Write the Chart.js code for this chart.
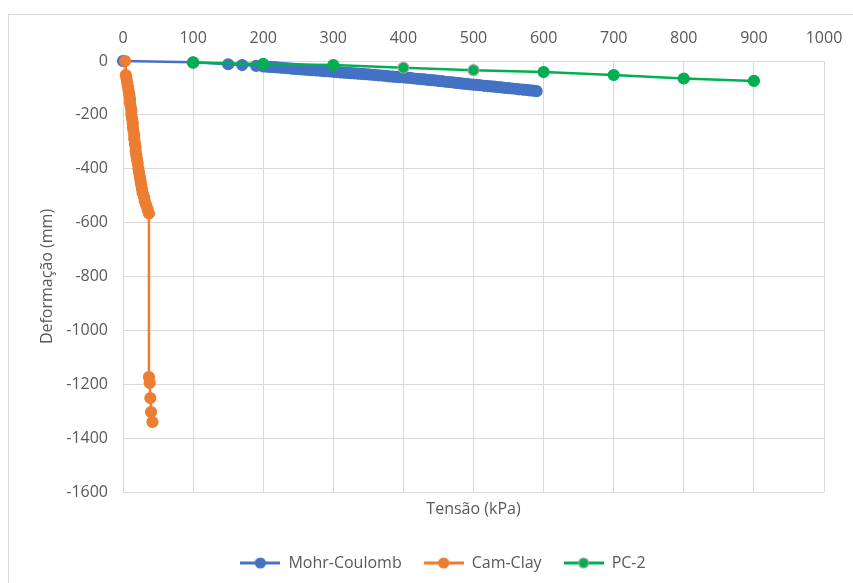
<!DOCTYPE html>
<html>
<head>
<meta charset="utf-8">
<script src="https://cdn.jsdelivr.net/npm/chart.js@4.4.1/dist/chart.umd.min.js"></script>
<style>
    html, body { margin: 0; padding: 0; background: #fff; width: 853px; height: 583px; overflow: hidden; }
    #frame { position: absolute; left: 8px; top: 14px; width: 900px; height: 620px;
             border-left: 1px solid #d9d9d9; border-top: 1px solid #d9d9d9; }
    #chart { position: absolute; left: 0; top: 0; }
</style>
</head>
<body>
<div id="frame"><canvas id="chart" width="868" height="566"></canvas></div>
<script>
// Mohr-Coulomb
const mcX = [0, 100, 150, 170, 190,
    200, 205, 210, 215, 220, 225, 230, 235, 240, 245, 250, 255, 260, 265, 270, 275, 280, 285, 290, 295,
    300, 305, 310, 315, 320, 325, 330, 335, 340, 345, 350, 355, 360, 365, 370, 375, 380, 385, 390, 395,
    400, 405, 410, 415, 420, 425, 430, 435, 440, 445, 450, 455, 460, 465, 470, 475, 480, 485, 490, 495,
    500, 505, 510, 515, 520, 525, 530, 535, 540, 545, 550, 555, 560, 565, 570, 575, 580, 585, 590];
const mcY = [0, -5, -12, -15, -18,
    -20, -21, -22, -23, -24, -25, -26, -27, -28, -29, -30, -31, -32, -33, -34, -35, -36, -37, -38, -39,
    -40, -41, -42, -43, -44, -45, -46, -47, -48, -49, -50, -51, -52, -53, -54, -55, -57, -58, -59, -60,
    -61, -62, -63, -65, -66, -67, -68, -70, -71, -72, -74, -75, -77, -78, -79, -81, -82, -84, -85, -87,
    -88, -89, -90, -92, -93, -94, -95, -97, -98, -100, -101, -102, -103, -105, -106, -107, -109, -110, -112];

// Cam-Clay
const ccX = [3, 4, 5, 6, 7, 8, 9, 10, 10, 11, 12, 12, 13, 14, 14, 15, 16, 16, 17, 18, 18,
    19, 20, 21, 22, 23, 24, 25, 26, 27, 28, 30, 31, 33, 35, 37, 37, 38, 39, 40, 42];
const ccY = [0, -52, -65, -80, -95, -110, -125, -140, -155, -170, -185, -200, -215, -230,
    -245, -260, -275, -290, -305, -320, -335, -350, -365, -380, -400, -415, -430, -445,
    -460, -475, -490, -505, -520, -535, -550, -566, -1173, -1195, -1251, -1303, -1340];

// PC-2
const pcX = [100, 200, 300, 400, 500, 600, 700, 800, 900];
const pcY = [-6, -11, -15, -25, -34, -41, -52, -65, -74];

const xTicks = [0, 100, 200, 300, 400, 500, 600, 700, 800, 900, 1000];
const yTicks = [0, -200, -400, -600, -800, -1000, -1200, -1400, -1600];

const toXY = (xs, ys) => xs.map((x, i) => ({ x: x, y: ys[i] }));

const BLUE = '#4472C4';
const ORANGE = '#ED7D31';
const GREEN = '#00B050';
const GRID = '#d9d9d9';
const TEXT = '#595959';
const FONT = { family: "'Open Sans', sans-serif", size: 16 };

// excel style legend symbol: a short line with a marker in the middle
function legendSymbol(color, edge) {
    const c = document.createElement('canvas');
    c.width = 40;
    c.height = 12;
    const g = c.getContext('2d');
    g.strokeStyle = color;
    g.lineWidth = 3;
    g.beginPath();
    g.moveTo(0, 6);
    g.lineTo(40, 6);
    g.stroke();
    g.beginPath();
    g.arc(20, 6, 5, 0, Math.PI * 2);
    g.fillStyle = color;
    g.fill();
    g.lineWidth = 1.2;
    g.strokeStyle = edge;
    g.stroke();
    return c;
}
const symbols = [legendSymbol(BLUE, BLUE), legendSymbol(ORANGE, ORANGE), legendSymbol(GREEN, '#a5a5a5')];

const data = {
    datasets: [{
        label: 'Mohr-Coulomb',
        data: toXY(mcX, mcY),
        borderColor: BLUE,
        backgroundColor: BLUE,
        pointBorderColor: BLUE,
        order: 2
    }, {
        label: 'Cam-Clay',
        data: toXY(ccX, ccY),
        borderColor: ORANGE,
        backgroundColor: ORANGE,
        pointBorderColor: ORANGE,
        order: 1
    }, {
        label: 'PC-2',
        data: toXY(pcX, pcY),
        borderColor: GREEN,
        backgroundColor: GREEN,
        pointBorderColor: function(ctx) {
            const x = ctx.raw && ctx.raw.x;
            return (x === 400 || x === 500) ? '#a5a5a5' : GREEN;
        },
        order: 0
    }]
};

new Chart(document.getElementById('chart'), {
    type: 'scatter',
    data: data,
    options: {
        responsive: false,
        animation: false,
        events: [],
        datasets: {
            scatter: {
                showLine: true,
                borderWidth: 2.5,
                pointRadius: 5.5,
                pointHoverRadius: 5.5,
                pointBorderWidth: 1.2,
                clip: false
            }
        },
        layout: { padding: 0 },
        plugins: {
            tooltip: { enabled: false },
            legend: {
                position: 'bottom',
                labels: {
                    color: TEXT,
                    font: FONT,
                    padding: 22,
                    usePointStyle: true,
                    pointStyleWidth: 40,
                    generateLabels: function(chart) {
                        const items = Chart.defaults.plugins.legend.labels.generateLabels(chart);
                        items.forEach(it => { it.pointStyle = symbols[it.datasetIndex]; });
                        return items;
                    },
                    sort: (a, b) => a.datasetIndex - b.datasetIndex
                }
            }
        },
        scales: {
            x: {
                type: 'linear',
                position: 'top',
                min: 0,
                max: 1000,
                afterBuildTicks: s => { s.ticks = xTicks.map(v => ({ value: v })); },
                afterFit: s => { s.height = 46; },
                grid: { color: GRID, drawTicks: false },
                border: { color: GRID },
                ticks: {
                    color: TEXT, font: FONT, padding: 13,
                    autoSkip: false, maxRotation: 0,
                    callback: v => String(v)
                }
            },
            x2: {
                type: 'linear',
                position: 'bottom',
                min: 0,
                max: 1000,
                afterFit: s => { s.height = 566 - 477 - s.chart.legend.height; },
                grid: { display: false },
                border: { display: false },
                ticks: { display: false },
                title: {
                    display: true,
                    text: 'Tensão (kPa)',
                    color: TEXT,
                    font: FONT,
                    padding: { top: 0, bottom: 14 }
                }
            },
            y: {
                type: 'linear',
                position: 'left',
                min: -1600,
                max: 0,
                afterBuildTicks: s => { s.ticks = yTicks.map(v => ({ value: v })); },
                afterFit: s => { s.width = 114; },
                grid: { color: GRID, drawTicks: false },
                border: { color: GRID },
                ticks: {
                    color: TEXT, font: FONT, padding: 15,
                    callback: v => String(v)
                },
                title: {
                    display: true,
                    text: 'Deformação (mm)',
                    color: TEXT,
                    font: FONT,
                    padding: { top: 29, bottom: 0 }
                }
            },
            y2: {
                type: 'linear',
                position: 'right',
                afterFit: s => { s.width = 53; },
                grid: { display: false },
                border: { display: false },
                ticks: { display: false }
            }
        }
    }
});
</script>
</body>
</html>
